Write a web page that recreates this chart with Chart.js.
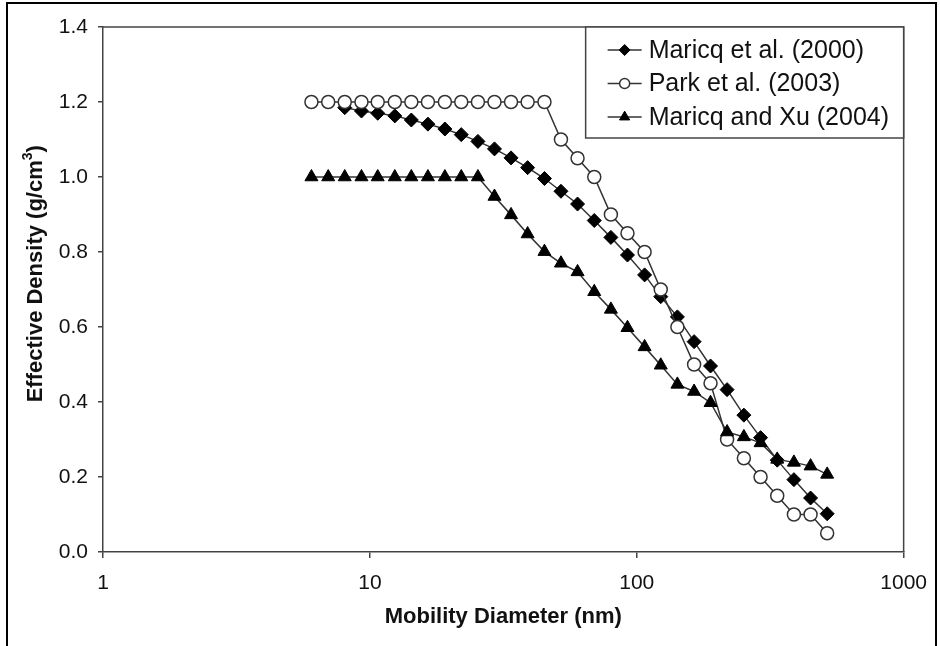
<!DOCTYPE html>
<html>
<head>
<meta charset="utf-8">
<script src="https://cdn.jsdelivr.net/npm/chart.js@4.4.1/dist/chart.umd.min.js"></script>
<style>
  html, body { margin: 0; padding: 0; background: #fff; }
  #wrap { position: relative; width: 940px; height: 646px; overflow: hidden; }
  #chart { position: absolute; left: 0; top: 0; }
  #frame { position: absolute; left: 6px; top: 2px; width: 931px; height: 700px;
           border: 2px solid #000; box-sizing: border-box; pointer-events: none; }
</style>
</head>
<body>
<div id="wrap">
  <canvas id="chart" width="940" height="646"></canvas>
  <div id="frame"></div>
</div>
<script>
// Mobility diameter bins (nm) shared by the three studies
const diameterNm = [
  6.04, 6.98, 8.05, 9.30, 10.7, 12.4, 14.3, 16.5, 19.1, 22.0, 25.4,
  29.3, 33.8, 39.0, 45.1, 52.0, 60.0, 69.3, 80.0, 92.3, 107, 123,
  142, 164, 189, 218, 252, 291, 336, 388, 448, 517
];

// Effective density (g/cm3); null where a study has no value
const maricq2000 = [
  null, null, 1.185, 1.176, 1.170, 1.163, 1.152, 1.141, 1.128, 1.113, 1.095,
  1.075, 1.051, 1.025, 0.996, 0.962, 0.928, 0.884, 0.839, 0.792, 0.739, 0.681,
  0.627, 0.561, 0.496, 0.433, 0.365, 0.305, 0.245, 0.193, 0.144, 0.102
];
const park2003 = [
  1.2, 1.2, 1.2, 1.2, 1.2, 1.2, 1.2, 1.2, 1.2, 1.2, 1.2,
  1.2, 1.2, 1.2, 1.2, 1.1, 1.05, 1.0, 0.9, 0.85, 0.8, 0.7,
  0.6, 0.5, 0.45, 0.3, 0.25, 0.2, 0.15, 0.1, 0.1, 0.05
];
const maricqXu2004 = [
  1.0, 1.0, 1.0, 1.0, 1.0, 1.0, 1.0, 1.0, 1.0, 1.0, 1.0,
  0.948, 0.899, 0.848, 0.801, 0.770, 0.747, 0.694, 0.647, 0.598, 0.547, 0.498,
  0.447, 0.428, 0.398, 0.320, 0.307, 0.291, 0.247, 0.239, 0.229, 0.207
];

const seriesLabels = ['Maricq et al. (2000)', 'Park et al. (2003)', 'Maricq and Xu (2004)'];
const xTickValues = [1, 10, 100, 1000];
const yTickStep = 0.2;
const xTitle = 'Mobility Diameter (nm)';
const yTitleParts = ['Effective Density (g/cm', '3', ')'];

const FONT = "'Liberation Sans', Arial, Helvetica, sans-serif";
const INK = '#333';

function toPoints(values) {
  const pts = [];
  values.forEach((v, i) => { if (v !== null) pts.push({ x: diameterNm[i], y: v }); });
  return pts;
}

// Plot frame (top and right edges)
const framePlugin = {
  id: 'plotFrame',
  beforeDatasetsDraw(chart) {
    const { ctx, chartArea: a } = chart;
    ctx.save();
    ctx.strokeStyle = '#444';
    ctx.lineWidth = 1.5;
    ctx.beginPath();
    ctx.moveTo(a.left, a.top);
    ctx.lineTo(a.right, a.top);
    ctx.lineTo(a.right, a.bottom);
    ctx.stroke();
    ctx.restore();
  }
};

// Vertical axis title with a raised exponent
const yTitlePlugin = {
  id: 'yTitle',
  afterDraw(chart) {
    const { ctx, chartArea: a } = chart;
    const big = 'bold 22px ' + FONT, small = 'bold 14px ' + FONT;
    ctx.save();
    ctx.font = big;
    const w0 = ctx.measureText(yTitleParts[0]).width;
    const w2 = ctx.measureText(yTitleParts[2]).width;
    ctx.font = small;
    const w1 = ctx.measureText(yTitleParts[1]).width;
    const total = w0 + w1 + w2;
    const cy = a.top + a.height * 0.47;
    ctx.translate(36, cy);
    ctx.rotate(-Math.PI / 2);
    ctx.fillStyle = '#111';
    ctx.textBaseline = 'middle';
    ctx.textAlign = 'left';
    let x = -total / 2;
    ctx.font = big;
    ctx.fillText(yTitleParts[0], x, 0);
    x += w0;
    ctx.font = small;
    ctx.fillText(yTitleParts[1], x, -8);
    x += w1;
    ctx.font = big;
    ctx.fillText(yTitleParts[2], x, 0);
    ctx.restore();
  }
};

// Boxed legend in the upper right corner of the plot
const boxLegendPlugin = {
  id: 'boxLegend',
  afterDraw(chart) {
    const { ctx, chartArea: a } = chart;
    const left = a.right - 318, top = a.top, bottom = a.top + 111;
    ctx.save();
    ctx.fillStyle = '#fff';
    ctx.fillRect(left, top, a.right - left, bottom - top);
    ctx.strokeStyle = '#444';
    ctx.lineWidth = 1.5;
    ctx.strokeRect(left, top, a.right - left, bottom - top);
    chart.data.datasets.forEach((ds, i) => {
      const y = top + 23 + i * 33.5;
      const lx0 = left + 22, lx1 = left + 56, mx = (lx0 + lx1) / 2;
      ctx.strokeStyle = ds.borderColor;
      ctx.lineWidth = 1.5;
      ctx.beginPath();
      ctx.moveTo(lx0, y);
      ctx.lineTo(lx1, y);
      ctx.stroke();
      ctx.fillStyle = ds.pointBackgroundColor;
      ctx.strokeStyle = ds.pointBorderColor;
      ctx.lineWidth = ds.pointBorderWidth;
      Chart.helpers.drawPoint(ctx, {
        pointStyle: ds.pointStyle, rotation: 0,
        radius: ds.pointRadius * 0.78, borderWidth: ds.pointBorderWidth
      }, mx, y);
      ctx.fillStyle = '#111';
      ctx.font = '25px ' + FONT;
      ctx.textBaseline = 'middle';
      ctx.textAlign = 'left';
      ctx.fillText(ds.label, left + 63, y + 1);
    });
    ctx.restore();
  }
};

const ctx = document.getElementById('chart').getContext('2d');
new Chart(ctx, {
  type: 'scatter',
  data: {
    datasets: [
      {
        label: seriesLabels[0], data: toPoints(maricq2000), showLine: true,
        borderColor: INK, borderWidth: 1.5,
        pointStyle: 'rectRot', pointRadius: 7,
        pointBackgroundColor: '#000', pointBorderColor: '#000', pointBorderWidth: 1,
        order: 2
      },
      {
        label: seriesLabels[1], data: toPoints(park2003), showLine: true,
        borderColor: INK, borderWidth: 1.5,
        pointStyle: 'circle', pointRadius: 6.5,
        pointBackgroundColor: '#fff', pointBorderColor: INK, pointBorderWidth: 1.5,
        order: 1
      },
      {
        label: seriesLabels[2], data: toPoints(maricqXu2004), showLine: true,
        borderColor: INK, borderWidth: 1.5,
        pointStyle: 'triangle', pointRadius: 7.5,
        pointBackgroundColor: '#000', pointBorderColor: '#000', pointBorderWidth: 1,
        order: 0
      }
    ]
  },
  options: {
    responsive: false,
    animation: false,
    events: [],
    layout: { padding: { left: 0, top: 27, right: 34, bottom: 0 } },
    plugins: { legend: { display: false }, tooltip: { enabled: false } },
    scales: {
      x: {
        type: 'logarithmic', min: 1, max: 1000,
        afterBuildTicks: s => { s.ticks = xTickValues.map(v => ({ value: v })); },
        afterFit: s => { s.height = 94; },
        ticks: {
          callback: v => String(v), autoSkip: false, maxRotation: 0,
          color: '#111', font: { family: FONT, size: 21 }, padding: 13
        },
        grid: { drawOnChartArea: false, drawTicks: true, tickLength: 6, color: '#444', lineWidth: 1.5 },
        border: { color: '#444', width: 1.5 },
        title: {
          display: true, text: xTitle, color: '#111',
          font: { family: FONT, size: 22, weight: 'bold' }, padding: { top: 0, bottom: 16 }
        }
      },
      y: {
        min: 0, max: 1.4,
        afterFit: s => { s.width = 103; },
        ticks: {
          stepSize: yTickStep, callback: v => v.toFixed(1),
          color: '#111', font: { family: FONT, size: 21 }, padding: 10
        },
        grid: { drawOnChartArea: false, drawTicks: true, tickLength: 5, color: '#444', lineWidth: 1.5 },
        border: { color: '#444', width: 1.5 }
      }
    }
  },
  plugins: [framePlugin, yTitlePlugin, boxLegendPlugin]
});
</script>
</body>
</html>
